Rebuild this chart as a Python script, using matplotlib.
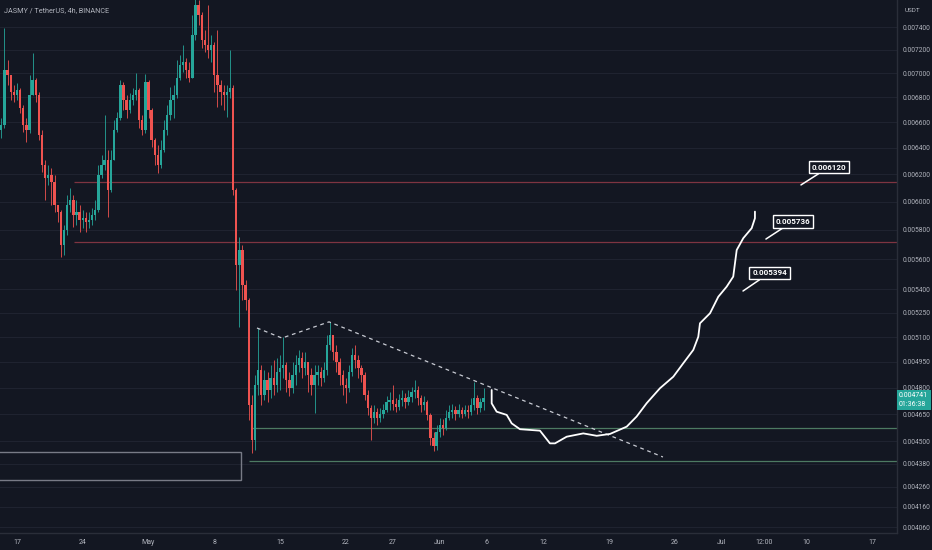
import numpy as np
import matplotlib
matplotlib.use("Agg")
import matplotlib.pyplot as plt
from matplotlib.patches import Rectangle
from matplotlib.ticker import FixedLocator, FixedFormatter, NullLocator

plt.rcParams['font.family'] = ['Roboto', 'DejaVu Sans']

# ---- colours (TradingView dark) -------------------------------------------
BG = '#131722'
GRID = '#1f2330'
AXIS = '#2a2e39'
TXT = '#b2b5be'
UP = '#26a69a'
DOWN = '#ef5350'

# ---- data ------------------------------------------------------------------
# x in days since Apr 17; one candle every 8 h
CANDLE_T0 = -1.67
CANDLE_STEP = 1 / 3
OPEN_FIRST = 0.006539
CLOSE = [
    0.006579, 0.007028, 0.006986, 0.006845, 0.006820, 0.006861, 0.006714, 0.006579, 0.006539, 0.006820,
    0.006944, 0.006820, 0.006500, 0.006270, 0.006173, 0.006195, 0.006144, 0.005976, 0.005927, 0.005696,
    0.005800, 0.005976, 0.006012, 0.005905, 0.005927, 0.005870, 0.005884, 0.005856, 0.005870, 0.005905,
    0.005941, 0.006195, 0.006270, 0.006308, 0.006085, 0.006308, 0.006539, 0.006634, 0.006902, 0.006779,
    0.006698, 0.006779, 0.006820, 0.006861, 0.006618, 0.006539, 0.006927, 0.006698, 0.006461, 0.006346,
    0.006270, 0.006384, 0.006539, 0.006658, 0.006779, 0.006820, 0.006961, 0.007070, 0.007096, 0.007028,
    0.006961, 0.007329, 0.007598, 0.007507, 0.007285, 0.007242, 0.007198, 0.007242, 0.006986, 0.006902,
    0.006845, 0.006820, 0.006845, 0.006878, 0.006085, 0.005561, 0.005662, 0.005429, 0.005332, 0.004701,
    0.004507, 0.004815, 0.004902, 0.004758, 0.004844, 0.004786, 0.004856, 0.004815, 0.004890, 0.004914,
    0.004932, 0.004844, 0.004798, 0.004873, 0.004932, 0.004974, 0.004914, 0.004950, 0.004873, 0.004815,
    0.004873, 0.004890, 0.004856, 0.004902, 0.005052, 0.005113, 0.005010, 0.004950, 0.004873, 0.004815,
    0.004798, 0.004890, 0.004992, 0.004962, 0.004914, 0.004873, 0.004758, 0.004684, 0.004628, 0.004662,
    0.004628, 0.004651, 0.004673, 0.004718, 0.004729, 0.004707, 0.004690, 0.004729, 0.004741, 0.004718,
    0.004746, 0.004775, 0.004786, 0.004741, 0.004701, 0.004718, 0.004645, 0.004518, 0.004475, 0.004551,
    0.004589, 0.004573, 0.004628, 0.004662, 0.004673, 0.004651, 0.004673, 0.004651, 0.004673, 0.004662,
    0.004701, 0.004741, 0.004684, 0.004718, 0.004741,
]
HIGH = [
    0.006634, 0.007391, 0.007113, 0.006961, 0.006902, 0.006919, 0.006878, 0.006739, 0.006634, 0.006986,
    0.007172, 0.006961, 0.006845, 0.006539, 0.006308, 0.006270, 0.006248, 0.006195, 0.005976, 0.005941,
    0.005835, 0.006048, 0.006100, 0.006048, 0.006012, 0.005976, 0.005941, 0.005927, 0.005927, 0.005955,
    0.006012, 0.006270, 0.006346, 0.006658, 0.006384, 0.006384, 0.006618, 0.006682, 0.006944, 0.006927,
    0.006820, 0.006836, 0.006878, 0.007003, 0.006878, 0.006658, 0.006994, 0.006944, 0.006714, 0.006477,
    0.006423, 0.006461, 0.006618, 0.006739, 0.006886, 0.006902, 0.007113, 0.007155, 0.007242, 0.007130,
    0.007096, 0.007507, 0.007736, 0.007644, 0.007535, 0.007373, 0.007598, 0.007329, 0.007268, 0.007373,
    0.006944, 0.006902, 0.006902, 0.007198, 0.006902, 0.006100, 0.005751, 0.005696, 0.005462, 0.005345,
    0.004758, 0.004873, 0.005156, 0.004932, 0.004902, 0.004890, 0.004932, 0.004962, 0.004974, 0.004992,
    0.005101, 0.004950, 0.004890, 0.004950, 0.004992, 0.005022, 0.005010, 0.005010, 0.004950, 0.004914,
    0.004932, 0.004932, 0.004920, 0.004950, 0.005113, 0.005194, 0.005113, 0.005052, 0.004974, 0.004902,
    0.004856, 0.004932, 0.005034, 0.005052, 0.004992, 0.004932, 0.004890, 0.004786, 0.004701, 0.004701,
    0.004684, 0.004684, 0.004707, 0.004752, 0.004775, 0.004815, 0.004741, 0.004763, 0.004786, 0.004769,
    0.004786, 0.004803, 0.004844, 0.004809, 0.004758, 0.004752, 0.004729, 0.004656, 0.004551, 0.004589,
    0.004628, 0.004623, 0.004673, 0.004701, 0.004707, 0.004696, 0.004707, 0.004690, 0.004701, 0.004701,
    0.004741, 0.004832, 0.004758, 0.004741, 0.004798,
]
LOW = [
    0.006477, 0.006555, 0.006902, 0.006779, 0.006763, 0.006779, 0.006674, 0.006523, 0.006446, 0.006516,
    0.006820, 0.006763, 0.006461, 0.006218, 0.006012, 0.006122, 0.005976, 0.005927, 0.005856, 0.005614,
    0.005628, 0.005765, 0.005927, 0.005821, 0.005835, 0.005786, 0.005814, 0.005786, 0.005814, 0.005835,
    0.005870, 0.005927, 0.006173, 0.006233, 0.005891, 0.006070, 0.006308, 0.006523, 0.006618, 0.006698,
    0.006634, 0.006674, 0.006739, 0.006779, 0.006555, 0.006500, 0.006516, 0.006634, 0.006407, 0.006270,
    0.006210, 0.006248, 0.006369, 0.006500, 0.006618, 0.006634, 0.006795, 0.006944, 0.007011, 0.006961,
    0.006927, 0.006961, 0.007285, 0.007418, 0.007216, 0.007181, 0.007130, 0.007096, 0.006845, 0.006722,
    0.006739, 0.006698, 0.006642, 0.006795, 0.006048, 0.005397, 0.005163, 0.005332, 0.005269, 0.004617,
    0.004438, 0.004454, 0.004758, 0.004701, 0.004729, 0.004718, 0.004741, 0.004758, 0.004775, 0.004786,
    0.004856, 0.004775, 0.004752, 0.004769, 0.004815, 0.004890, 0.004856, 0.004873, 0.004775, 0.004758,
    0.004656, 0.004815, 0.004809, 0.004832, 0.004873, 0.005022, 0.004962, 0.004890, 0.004815, 0.004758,
    0.004712, 0.004775, 0.004867, 0.004914, 0.004856, 0.004832, 0.004729, 0.004645, 0.004507, 0.004600,
    0.004589, 0.004606, 0.004628, 0.004662, 0.004673, 0.004673, 0.004662, 0.004673, 0.004696, 0.004684,
    0.004701, 0.004718, 0.004741, 0.004701, 0.004662, 0.004673, 0.004617, 0.004480, 0.004448, 0.004454,
    0.004523, 0.004534, 0.004562, 0.004617, 0.004628, 0.004617, 0.004634, 0.004628, 0.004640, 0.004628,
    0.004645, 0.004673, 0.004651, 0.004662, 0.004673,
]
LAST_PRICE = 0.004741
COUNTDOWN = "01:36:38"

# horizontal levels
RES_LEVELS = [0.006144, 0.005716]
RES_START = 6.07
SUP_LEVELS = [0.004573, 0.004395]
SUP_START = [25.0, 24.7]

# old demand box (left)
BOX_END = 23.84
BOX_LOW, BOX_HIGH = 0.004296, 0.004443

# descending trendline (dashed)
TREND_DAYS = [25.54, 28.20, 33.21, 68.75]
TREND_PRICES = [0.005156, 0.005094, 0.005194, 0.004416]

# projected path (hand-drawn white curve)
PATH_DAYS = [50.52, 50.52, 51.05, 52.12, 52.65, 53.53, 55.66, 56.72, 57.26, 58.50,
             60.27, 61.70, 63.11, 64.89, 65.95, 67.02, 68.43, 69.85, 70.91, 71.98,
             72.51, 72.69, 73.76, 74.64, 75.53, 76.23, 76.60, 77.30, 78.19, 78.54, 78.54]
PATH_PRICES = [0.004786, 0.004710, 0.004663, 0.004645, 0.004598, 0.004566, 0.004558, 0.004489,
               0.004489, 0.004525, 0.004543, 0.004530, 0.004540, 0.004580, 0.004636, 0.004711,
               0.004796, 0.004863, 0.004942, 0.005022, 0.005102, 0.005185, 0.005248, 0.005353,
               0.005418, 0.005484, 0.005662, 0.005743, 0.005812, 0.005882, 0.005929]

# target callouts: label, tip (day, price), box centre (day, price)
TARGET_LABELS = ["0.006120", "0.005736", "0.005394"]
TARGET_TIPS = [(83.44, 0.006122), (79.71, 0.005737), (77.27, 0.005390)]
TARGET_BOXES = [(86.43, 0.006255), (82.59, 0.005860), (80.09, 0.005508)]

Y_TICKS = [0.0074, 0.0072, 0.0070, 0.0068, 0.0066, 0.0064, 0.0062, 0.0060, 0.0058, 0.0056,
           0.0054, 0.00525, 0.0051, 0.00495, 0.0048, 0.00465, 0.0045, 0.00438, 0.00426,
           0.00416, 0.00406]
X_TICKS = [0, 7, 14, 21, 28, 35, 40, 45, 50, 56, 63, 70, 75, 79.5, 84, 91]
X_LABELS = ["17", "24", "May", "8", "15", "22", "27", "Jun", "6", "12", "19", "26",
            "Jul", "12:00", "10", "17"]
XLIM = (-1.81, 93.66)
YLIM = (0.004031, 0.007644)

# ---- figure ----------------------------------------------------------------
fig = plt.figure(figsize=(9.32, 5.5), dpi=100, facecolor=BG)
ax = fig.add_axes([0, 17 / 550, 897 / 932, 533 / 550], facecolor=BG)
ax.set_yscale('log')

close = np.array(CLOSE)
high = np.array(HIGH)
low = np.array(LOW)
opn = np.r_[OPEN_FIRST, close[:-1]]
t = CANDLE_T0 + np.arange(len(close)) * CANDLE_STEP
cols = np.where(close >= opn, UP, DOWN)

ax.vlines(t, low, high, colors=cols, lw=0.6, zorder=3)
ax.bar(t, np.maximum(np.abs(close - opn), 3e-6), bottom=np.minimum(opn, close),
       width=CANDLE_STEP * 0.75, color=cols, lw=0, zorder=4)

# levels
for p in RES_LEVELS:
    ax.hlines(p, RES_START, XLIM[1], colors='#7e3441', lw=0.9, zorder=2)
for p, s in zip(SUP_LEVELS, SUP_START):
    ax.hlines(p, s, XLIM[1], colors='#4d7a62', lw=0.9, zorder=2)

ax.add_patch(Rectangle((XLIM[0] - 1, BOX_LOW), BOX_END - XLIM[0] + 1, BOX_HIGH - BOX_LOW,
                       fill=False, ec='#787b86', lw=1.0, zorder=2))

ax.plot(TREND_DAYS, TREND_PRICES, color='#c8cbd3', lw=0.9, dashes=(3, 3), zorder=5)
ax.plot(PATH_DAYS, PATH_PRICES, color='white', lw=1.3, solid_joinstyle='round',
        solid_capstyle='round', zorder=6)

for lab, tip, box in zip(TARGET_LABELS, TARGET_TIPS, TARGET_BOXES):
    ax.annotate(lab, xy=tip, xytext=box, textcoords='data', ha='center', va='center',
                fontsize=5.8, fontweight='bold', color='white', zorder=7,
                bbox=dict(boxstyle='square,pad=0.35', fc=BG, ec='white', lw=1.0),
                arrowprops=dict(arrowstyle='-', color='white', lw=1.1,
                                shrinkA=0, shrinkB=0))

# axes cosmetics
ax.set_xlim(*XLIM)
ax.set_ylim(*YLIM)
ax.yaxis.tick_right()
ax.yaxis.set_major_locator(FixedLocator(Y_TICKS))
ax.yaxis.set_major_formatter(FixedFormatter([f"{v:.6f}" for v in Y_TICKS]))
ax.yaxis.set_minor_locator(NullLocator())
ax.set_xticks(X_TICKS)
ax.set_xticklabels(X_LABELS)
ax.tick_params(axis='y', length=0, pad=4, labelsize=4.8, labelcolor=TXT)
ax.tick_params(axis='x', length=0, pad=4, labelsize=5, labelcolor=TXT)
ax.grid(axis='y', color=GRID, lw=0.8, zorder=0)
ax.set_axisbelow(True)
for s in ('top', 'left'):
    ax.spines[s].set_visible(False)
for s in ('bottom', 'right'):
    ax.spines[s].set_color(AXIS)
    ax.spines[s].set_linewidth(1.0)

# last price tag on the price scale
ax.annotate(f"{LAST_PRICE:.6f}\n{COUNTDOWN}", xy=(1.0, LAST_PRICE),
            xycoords=('axes fraction', 'data'), xytext=(1.5, -1.5),
            textcoords='offset points', ha='left', va='center', fontsize=5,
            color='white', linespacing=1.35, annotation_clip=False, zorder=10,
            bbox=dict(boxstyle='square,pad=0.35', fc=UP, ec='none'))

fig.text(4 / 932, 1 - 11 / 550, "JASMY / TetherUS, 4h, BINANCE", fontsize=5.2,
         color=TXT, va='center', ha='left')
fig.text(905 / 932, 1 - 10 / 550, "USDT", fontsize=4.6, color=TXT, va='center', ha='left')

fig.savefig("out.png", dpi=100, facecolor=BG)
